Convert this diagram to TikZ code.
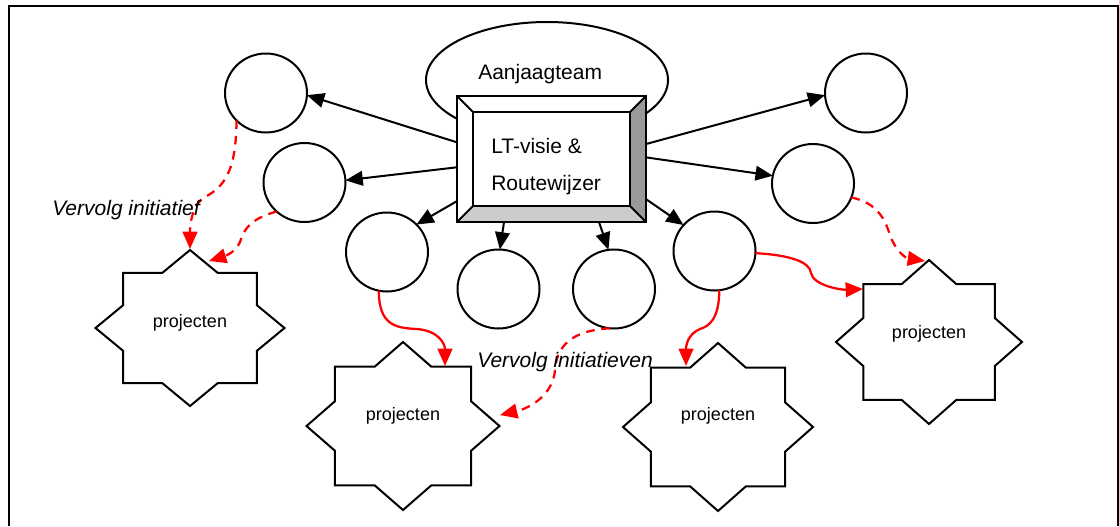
\documentclass[tikz,border=0pt]{standalone}
\usepackage{fontspec}
\setmainfont{Liberation Sans}
\usetikzlibrary{arrows.meta,calc,shapes.geometric}
\definecolor{bevdark}{RGB}{153,153,153}
\definecolor{bevlight}{RGB}{204,204,204}
\newcommand\projstar[6]{%
  \begin{scope}[shift={(#2,#3)},xscale=#4,yscale=#5]
    \draw[starline] (0:1) \foreach \a in {0,45,...,315}{ -- ({\a+22.5}:0.7654) -- ({\a+45}:1)} -- cycle;
  \end{scope}
  \node[ptxt, anchor=base] (#1) at (#2,#6) {projecten};}
\begin{document}
\begin{tikzpicture}[x=0.75pt,y=-0.75pt,
  bub/.style={draw, ellipse, line width=1.5pt, minimum width=61.5pt, minimum height=59.25pt, inner sep=0pt, outer sep=0pt},
  blk/.style={line width=1.5pt, -{Triangle[length=13pt,width=11pt]}},
  redsolid/.style={draw=red, line width=1.7pt, -{Triangle[length=13pt,width=11pt]}, red},
  reddash/.style={redsolid, dash pattern=on 6.5pt off 5pt},
  starline/.style={draw, line width=1.5pt, fill=white, line join=miter},
  lbl/.style={font=\fontsize{15.75}{19}\selectfont, inner sep=0pt},
  ptxt/.style={font=\fontsize{13.5}{16}\selectfont, inner sep=0pt}]
\useasboundingbox (0,0) rectangle (1119,526);
% frame
\draw[line width=1.5pt] (9,526) -- (9,6) -- (1118,6) -- (1118,526);

% Aanjaagteam ellipse
\node[draw, ellipse, line width=1.5pt, minimum width=181.5pt, minimum height=87pt, inner sep=0pt] (team) at (547,80) {};
\node[lbl, anchor=base west] (teamtxt) at (478,79) {Aanjaagteam};

% bevelled box
\node[draw, line width=1.5pt, fill=white, minimum width=141.75pt, minimum height=94.5pt, inner sep=0pt, outer sep=0pt] (box) at (551.5,159) {};
\fill[bevdark] (box.north east) -- (box.south east) -- ($(box.south east)+(-16,-16)$) -- ($(box.north east)+(-16,16)$) -- cycle;
\fill[bevlight] (box.south west) -- (box.south east) -- ($(box.south east)+(-16,-16)$) -- ($(box.south west)+(16,-16)$) -- cycle;
\draw[line width=1.5pt] (box.north west) rectangle (box.south east);
\draw[line width=1.5pt] ($(box.north west)+(16,16)$) rectangle ($(box.south east)+(-16,-16)$);
\draw[line width=1.5pt] (box.north west) -- ++(16,16) (box.north east) -- ++(-16,16)
  (box.south west) -- ++(16,-16) (box.south east) -- ++(-16,-16);
\node[lbl, anchor=base west] (lt1) at (491,153) {LT-visie \&};
\node[lbl, anchor=base west] (lt2) at (491,190) {Routewijzer};

% circles
\node[bub] (c1) at (266,93) {};
\node[bub] (c2) at (304.5,182.5) {};
\node[bub] (c3) at (387,252) {};
\node[bub] (c4) at (498.5,289) {};
\node[bub] (c5) at (614,289) {};
\node[bub] (c6) at (714.5,251) {};
\node[bub] (c7) at (813,183.5) {};
\node[bub] (c8) at (866,93) {};

% black arrows
\draw[blk] (box.170.4) -- (c1.-3);
\draw[blk] (box.-175.2) -- (c2.3.4);
\draw[blk] (box.-156.5) -- (c3.43);
\draw[blk] (box.-127.6) -- (c4.88);
\draw[blk] (box.-53.6) -- (c5.98.5);
\draw[blk] (box.-23.5) -- (c6.140);
\draw[blk] (box.1.2) -- (c7.169.6);
\draw[blk] (box.9.6) -- (c8.-177);

% stars
\projstar{s1}{190}{328}{94.5}{78}{327}
\projstar{s2}{403}{426}{96.5}{84}{420}
\projstar{s3}{718}{427}{95}{84}{420}
\projstar{s4}{929}{342}{93}{82}{338}

% arrow end points on stars
\coordinate (e1) at (190,249);
\coordinate (e2) at (209,261);
\coordinate (e3) at (445,366);
\coordinate (e4) at (500,415);
\coordinate (e5) at (686,366);
\coordinate (e6) at (863,289);
\coordinate (e7) at (925,261);

% red connectors
\draw[reddash] (c1.-137) .. controls (236,165) and (228,185) .. (205,197) .. controls (192,204) and (190,225) .. (e1);
\draw[reddash] (c2.-134) .. controls (255,218) and (245,225) .. (240,242) .. controls (236,252) and (225,256) .. (e2);
\draw[redsolid] (c3.-102) .. controls (379,325) and (395,328) .. (417,329) .. controls (440,331) and (445,345) .. (e3);
\draw[reddash] (c5.-96) .. controls (580,330) and (557,340) .. (555,370) .. controls (553,395) and (530,408) .. (e4);
\draw[redsolid] (c6.-83) .. controls (719,318) and (710,326) .. (700,329) .. controls (688,334) and (686,345) .. (e5);
\draw[redsolid] (c6.-3) .. controls (790,255) and (810,262) .. (811,273) .. controls (813,285) and (840,290) .. (e6);
\draw[reddash] (c7.-20) .. controls (878,203) and (885,220) .. (890,235) .. controls (895,250) and (905,258) .. (e7);

% labels
\node[lbl, font=\fontsize{15.75}{19}\selectfont\itshape, anchor=base west] (v1) at (52,215) {Vervolg initiatief};
\node[lbl, font=\fontsize{15.75}{19}\selectfont\itshape, anchor=base west] (v2) at (477,367) {Vervolg initiatieven};
\end{tikzpicture}
\end{document}
